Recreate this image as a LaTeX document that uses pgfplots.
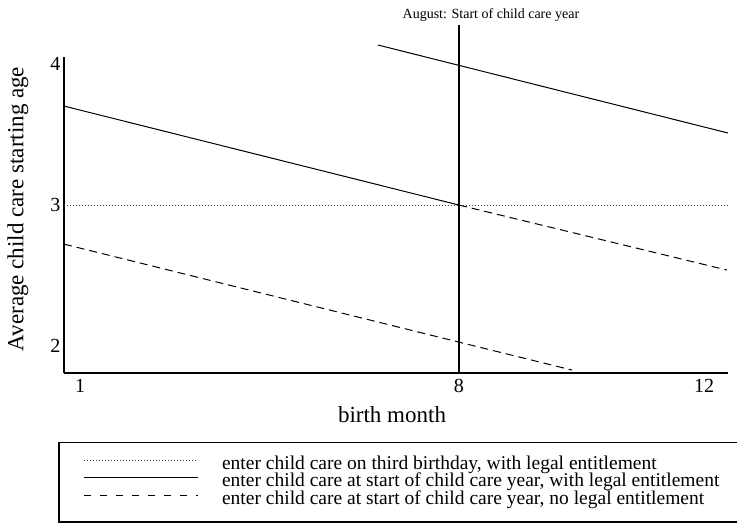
\documentclass[border=0pt]{standalone}
\usepackage{fontspec}
\setmainfont{Liberation Serif}
\usepackage{pgfplots}
\pgfplotsset{compat=1.18}

\begin{document}
\begin{tikzpicture}
\useasboundingbox (-64pt,-152pt) rectangle (673pt,373pt);
\begin{axis}[
    scale only axis,
    width=664pt, height=316pt,
    xmin=0.704, xmax=12.969,
    ymin=1.809, ymax=4.05,
    axis x line=bottom, axis y line=left,
    axis line style={line width=2pt, -},
    xtick={1,8,12.53}, xticklabels={1,8,12},
    ytick={2,3,4},
    major tick length=0pt,
    /pgf/number format/assume math mode=true,
    tick label style={font=\fontsize{20}{24}\selectfont},
    xticklabel style={yshift=-3pt},
    xlabel={birth month},
    ylabel={Average child care starting age},
    every axis x label/.style={at={(axis description cs:0.494,-0.133)}, anchor=center,
        font=\fontsize{23}{27}\selectfont},
    every axis y label/.style={at={(axis description cs:-0.0693,0.519)}, anchor=center, rotate=90,
        font=\fontsize{23}{27}\selectfont},
    clip=false,
    legend style={
        at={(-0.009,-0.218)}, anchor=north west,
        draw=black, line width=1.5pt,
        inner xsep=25pt, inner ysep=13pt,
        row sep=0pt, column sep=23pt,
        cells={anchor=west},
        nodes={inner sep=0pt, text height=13.4pt, text depth=4.4pt,
               font=\fontsize{19.5}{17.5}\selectfont},
    },
    legend image code/.code={\draw[#1] (0pt,4.5pt) -- (114pt,4.5pt);},
]

% dotted: third birthday
\addplot[black!75, line width=0.8pt, dash pattern=on 1pt off 2pt, forget plot]
    coordinates {(0.704,3.0) (12.969,3.0)};

% solid: start of child care year, with entitlement
\addplot[black, line width=1pt, forget plot]
    coordinates {(0.704,3.702) (8,3.0)};
\addplot[black, line width=1pt, forget plot]
    coordinates {(6.504,4.135) (12.969,3.511)};

% dashed: no legal entitlement
\addplot[black, line width=1pt, dash pattern=on 8pt off 5pt, forget plot]
    coordinates {(8,3.0) (12.95,2.539)};
\addplot[black, line width=1pt, dash pattern=on 8pt off 5pt, forget plot]
    coordinates {(0.704,2.723) (8,2.028) (10.087,1.830)};

% August line
\addplot[black, line width=2pt, forget plot]
    coordinates {(8,1.809) (8,4.277)};
\node[font=\fontsize{14}{16}\selectfont, anchor=center] at (axis cs:8.59,4.348)
    {August: Start of child care year};

\addlegendimage{black!75, line width=0.8pt, dash pattern=on 1pt off 2pt}
\addlegendentry{enter child care on third birthday, with legal entitlement}
\addlegendimage{black, line width=1.3pt}
\addlegendentry{enter child care at start of child care year, with legal entitlement}
\addlegendimage{black, line width=1pt, dash pattern=on 7pt off 9pt}
\addlegendentry{enter child care at start of child care year, no legal entitlement}
\end{axis}
\end{tikzpicture}
\end{document}
